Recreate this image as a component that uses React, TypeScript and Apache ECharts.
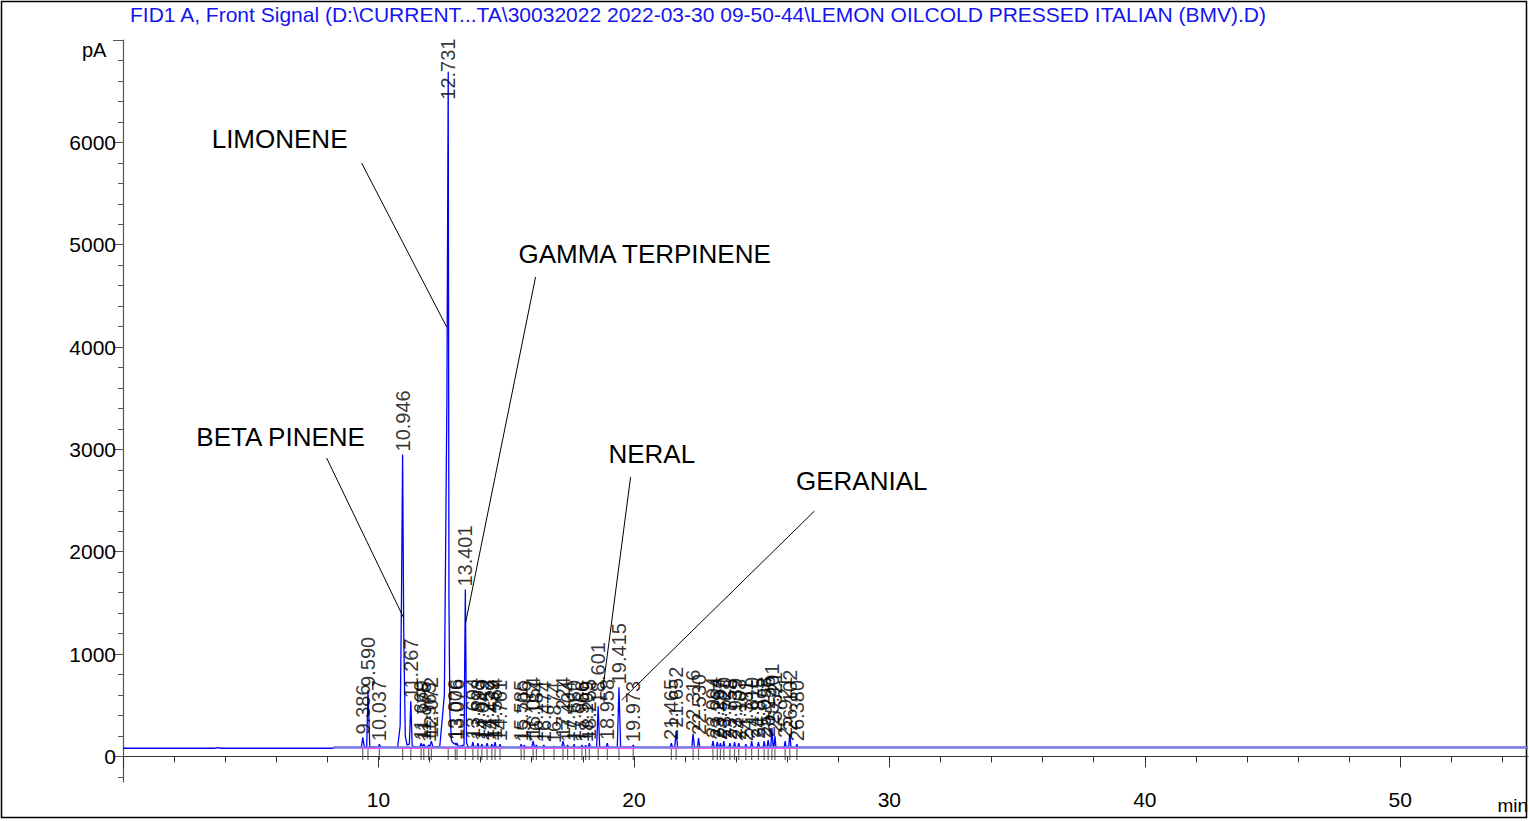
import React, { useEffect, useRef } from "react";
import * as echarts from "echarts";

const TITLE =
  "FID1 A, Front Signal (D:\\CURRENT...TA\\30032022 2022-03-30 09-50-44\\LEMON OILCOLD PRESSED ITALIAN (BMV).D)";

// Detector trace: [retention time (min), signal (pA)]
const SIGNAL_POINTS: [number, number][] = [
  [0, 80], [3.6, 80], [3.7, 86], [3.8, 80], [8.2, 80], [8.3, 88],
  [9.33, 88], [9.386, 185], [9.45, 90], [9.54, 92], [9.59, 650], [9.66, 96],
  [9.99, 88], [10.037, 120], [10.09, 88],
  [10.75, 90], [10.85, 300], [10.9, 1500], [10.946, 2950], [10.99, 1200], [11.05, 200], [11.12, 110],
  [11.21, 120], [11.267, 540], [11.32, 110], [11.4, 90],
  [11.62, 90], [11.669, 130], [11.72, 95], [11.775, 120], [11.83, 95],
  [11.92, 95], [11.965, 110], [12.01, 95], [12.072, 150], [12.13, 90],
  [12.4, 95], [12.58, 600], [12.68, 3500], [12.731, 6690], [12.76, 1500], [12.78, 900], [12.8, 400], [12.86, 150],
  [12.97, 120], [13.006, 130], [13.04, 110], [13.076, 130], [13.13, 95],
  [13.35, 110], [13.401, 1630], [13.45, 130], [13.52, 90],
  [13.65, 90], [13.694, 140], [13.74, 90], [13.85, 88], [13.893, 130], [13.94, 88],
  [14.0, 88], [14.049, 120], [14.1, 88], [14.2, 88], [14.252, 130], [14.3, 88],
  [14.4, 88], [14.439, 120], [14.48, 88], [14.52, 88], [14.564, 140], [14.61, 88],
  [14.72, 88], [14.761, 120], [14.8, 88],
  [15.54, 88], [15.585, 120], [15.63, 88], [15.67, 88], [15.706, 110], [15.75, 88],
  [16.0, 88], [16.054, 150], [16.11, 88], [16.14, 88], [16.184, 110], [16.23, 88],
  [16.43, 88], [16.474, 110], [16.52, 88], [16.83, 88], [16.874, 100], [16.92, 88],
  [17.17, 88], [17.224, 150], [17.28, 88], [17.36, 88], [17.404, 110], [17.45, 88],
  [17.62, 88], [17.66, 120], [17.7, 88], [17.92, 88], [17.966, 110], [18.01, 88],
  [18.07, 88], [18.109, 110], [18.15, 88], [18.21, 88], [18.255, 130], [18.3, 88],
  [18.54, 88], [18.601, 490], [18.66, 90], [18.91, 88], [18.958, 130], [19.0, 88],
  [19.35, 90], [19.415, 675], [19.48, 92], [19.93, 88], [19.973, 110], [20.02, 88],
  [21.42, 88], [21.465, 130], [21.51, 88], [21.6, 88], [21.652, 250], [21.71, 88],
  [22.27, 88], [22.316, 220], [22.37, 88], [22.49, 88], [22.53, 180], [22.58, 88],
  [23.05, 88], [23.094, 150], [23.14, 88], [23.22, 88], [23.264, 140], [23.31, 88],
  [23.35, 88], [23.387, 130], [23.43, 88], [23.48, 88], [23.52, 150], [23.56, 88],
  [23.72, 88], [23.758, 130], [23.8, 88], [23.9, 88], [23.939, 140], [23.98, 88],
  [24.06, 88], [24.103, 130], [24.15, 88], [24.34, 88], [24.381, 120], [24.42, 88],
  [24.57, 88], [24.61, 150], [24.65, 88], [24.83, 88], [24.875, 140], [24.92, 88],
  [25.06, 88], [25.098, 150], [25.14, 88], [25.21, 88], [25.255, 160], [25.3, 88],
  [25.36, 88], [25.401, 280], [25.45, 92], [25.48, 92], [25.521, 200], [25.56, 88],
  [25.88, 88], [25.921, 150], [25.96, 88], [26.06, 88], [26.102, 220], [26.15, 88],
  [26.34, 88], [26.38, 120], [26.42, 88], [55, 88],
];

// Integrated peaks: retention time labels and apex heights (pA)
const PEAK_LABELS = [
  "9.386", "9.590", "10.037", "10.946", "11.267", "11.669", "11.775", "11.965", "12.072",
  "12.731", "13.006", "13.076", "13.401", "13.694", "13.893", "14.049", "14.252", "14.439",
  "14.564", "14.761", "15.585", "15.706", "16.054", "16.184", "16.474", "16.874", "17.224",
  "17.404", "17.660", "17.966", "18.109", "18.255", "18.601", "18.958", "19.415", "19.973",
  "21.465", "21.652", "22.316", "22.530", "23.094", "23.264", "23.387", "23.520", "23.758",
  "23.939", "24.103", "24.381", "24.610", "24.875", "25.098", "25.255", "25.401", "25.521",
  "25.921", "26.102", "26.380",
];
const PEAK_HEIGHTS = [
  185, 650, 120, 2950, 540, 130, 120, 110, 150,
  6690, 130, 130, 1630, 140, 130, 120, 130, 120,
  140, 120, 120, 110, 150, 110, 110, 100, 150,
  110, 120, 110, 110, 130, 490, 130, 675, 110,
  130, 250, 220, 180, 150, 140, 130, 150, 130,
  140, 130, 120, 150, 140, 150, 160, 280, 200,
  150, 220, 120,
];

const BASELINE_LEVEL = 88;
const BASELINE_RANGE = [8.25, 55];
const INTEGRATION_SEGMENTS: [number, number][] = [
  [9.3, 10.1], [10.8, 12.2], [12.45, 14.85], [15.5, 16.3], [16.4, 18.35],
  [18.5, 19.1], [19.3, 20.05], [21.4, 21.75], [22.25, 26.45],
];

// Compound annotations (data coordinates: text centre, leader line from -> to)
const ANNOTATION_NAMES = ["LIMONENE", "GAMMA TERPINENE", "BETA PINENE", "NERAL", "GERANIAL"];
const ANNOTATION_TEXT_AT: [number, number][] = [
  [6.13, 6033], [20.42, 4909], [6.17, 3121], [20.7, 2955], [28.92, 2691],
];
const ANNOTATION_LINE_FROM: [number, number][] = [
  [9.34, 5798], [16.15, 4684], [7.97, 2916], [19.87, 2730], [27.07, 2398],
];
const ANNOTATION_LINE_TO: [number, number][] = [
  [12.67, 4196], [13.41, 1304], [10.99, 1352], [18.78, 649], [19.52, 551],
];

const X_MAJOR = [0, 10, 20, 30, 40, 50];
const X_LABELS = [10, 20, 30, 40, 50];
const X_MINOR = [2, 4, 6, 8, 12, 14, 16, 18, 22, 24, 26, 28, 32, 34, 36, 38, 42, 44, 46, 48, 52, 54];
const Y_MAJOR = [0, 1000, 2000, 3000, 4000, 5000, 6000, 7000];
const Y_LABELS = [0, 1000, 2000, 3000, 4000, 5000, 6000];
const Y_MINOR = [
  -200, 200, 400, 600, 800, 1200, 1400, 1600, 1800, 2200, 2400, 2600, 2800, 3200, 3400, 3600,
  3800, 4200, 4400, 4600, 4800, 5200, 5400, 5600, 5800, 6200, 6400, 6600, 6800,
];

const FONT = "'Liberation Sans', Arial, sans-serif";

export default function App() {
  const ref = useRef<HTMLDivElement>(null);

  useEffect(() => {
    document.body.style.margin = "0";
    if (!ref.current) return;
    const chart = echarts.init(ref.current, undefined, { renderer: "svg" });
    const axisColor = "#333";
    const peakData = PEAK_LABELS.map((lab, i) => {
      const item: any = { value: [parseFloat(lab), PEAK_HEIGHTS[i]], name: lab };
      if (lab === "12.731") item.label = { distance: -28 };
      return item;
    });
    chart.setOption({
      animation: false,
      textStyle: { fontFamily: FONT },
      grid: { left: 123, right: 1, top: 40, bottom: 39, containLabel: false },
      xAxis: [
        {
          type: "value", min: 0, max: 55, position: "bottom",
          axisLine: { show: true, lineStyle: { color: axisColor, width: 1.2 } },
          axisTick: { show: true, customValues: X_MAJOR, length: 11, lineStyle: { color: axisColor } },
          axisLabel: {
            customValues: X_LABELS, fontSize: 21, color: "#000", margin: 7, fontFamily: FONT,
            formatter: (v: number) => String(v),
          },
          splitLine: { show: false },
        },
        {
          type: "value", min: 0, max: 55, position: "bottom",
          axisLine: { show: false },
          axisTick: { show: true, customValues: X_MINOR, length: 6, lineStyle: { color: axisColor } },
          axisLabel: { show: false },
          splitLine: { show: false },
        },
      ],
      yAxis: [
        {
          type: "value", min: -250, max: 7000, position: "left",
          axisLine: { show: true, lineStyle: { color: "#555", width: 1.2 } },
          axisTick: { show: true, customValues: Y_MAJOR, length: 10, lineStyle: { color: "#555" } },
          axisLabel: {
            customValues: Y_LABELS, fontSize: 21, color: "#000", margin: 7, fontFamily: FONT,
            formatter: (v: number) => String(v),
          },
          splitLine: { show: false },
        },
        {
          type: "value", min: -250, max: 7000, position: "left",
          axisLine: { show: false },
          axisTick: { show: true, customValues: Y_MINOR, length: 5, lineStyle: { color: "#555" } },
          axisLabel: { show: false },
          splitLine: { show: false },
        },
      ],
      graphic: [
        {
          type: "rect", silent: true,
          shape: { x: 1.5, y: 1.5, width: 1525, height: 816 },
          style: { fill: "none", stroke: "#000", lineWidth: 1.5 },
        },
        {
          type: "text", left: 130, top: 4,
          style: { text: TITLE, fill: "#1414f0", font: `21px ${FONT}` },
        },
        {
          type: "text", left: 82, top: 40,
          style: { text: "pA", fill: "#000", font: `20px ${FONT}` },
        },
        {
          type: "text", right: 1, top: 796,
          style: { text: "min", fill: "#000", font: `19px ${FONT}` },
        },
      ],
      series: [
        {
          type: "line", name: "signal", data: SIGNAL_POINTS, symbol: "none",
          lineStyle: { color: "#0000ff", width: 1.3 }, z: 2,
        },
        {
          type: "line", name: "baseline",
          data: [[BASELINE_RANGE[0], BASELINE_LEVEL], [BASELINE_RANGE[1], BASELINE_LEVEL]],
          symbol: "none", lineStyle: { color: "#7b7be8", width: 2.5 }, z: 3,
          markLine: {
            silent: true, symbol: ["none", "none"], label: { show: false },
            lineStyle: { color: "#ff50ff", width: 1.2, type: "solid" },
            data: INTEGRATION_SEGMENTS.map(([a, b]) => [
              { coord: [a, BASELINE_LEVEL - 4] },
              { coord: [b, BASELINE_LEVEL - 4] },
            ]),
          },
        },
        {
          type: "scatter", name: "events",
          data: PEAK_LABELS.map((lab) => [parseFloat(lab), BASELINE_LEVEL]),
          symbol: "rect", symbolSize: [1.2, 11], symbolOffset: [0, 7],
          itemStyle: { color: "#444" }, z: 1, silent: true,
        },
        {
          type: "scatter", name: "peaks", data: peakData, symbolSize: 0, z: 5, silent: true,
          label: {
            show: true, position: "top", distance: 3, rotate: 90, align: "left",
            verticalAlign: "middle", formatter: "{b}", fontSize: 20, color: "#000", fontFamily: FONT,
          },
          labelLayout: { hideOverlap: false },
          markLine: {
            silent: true, symbol: ["none", "none"], label: { show: false },
            lineStyle: { color: "#000", width: 1, type: "solid" },
            data: ANNOTATION_NAMES.map((_, i) => [
              { coord: ANNOTATION_LINE_FROM[i] },
              { coord: ANNOTATION_LINE_TO[i] },
            ]),
          },
          markPoint: {
            silent: true, symbol: "circle", symbolSize: 0,
            label: { show: true, position: "inside", formatter: "{b}", fontSize: 26, color: "#000", fontFamily: FONT },
            data: ANNOTATION_NAMES.map((n, i) => ({ name: n, coord: ANNOTATION_TEXT_AT[i] })),
          },
        },
      ],
    });
    return () => chart.dispose();
  }, []);

  return <div ref={ref} style={{ width: 1529, height: 821 }} />;
}
